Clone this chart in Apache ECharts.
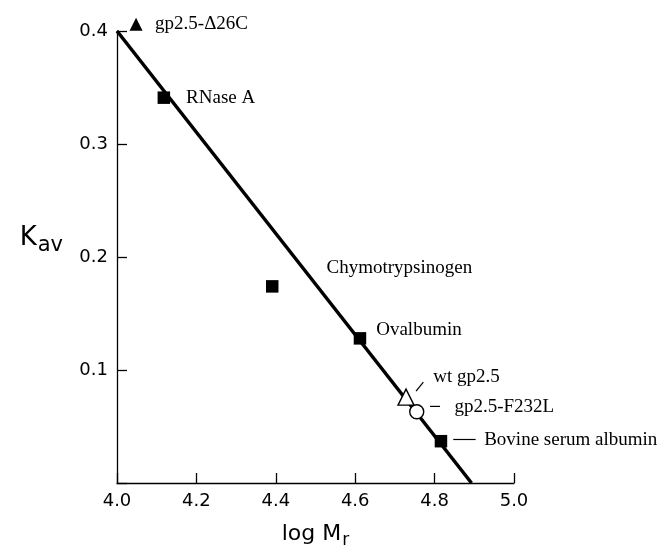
<!DOCTYPE html>
<html>
<head>
<meta charset="utf-8">
<script src="https://cdn.jsdelivr.net/npm/echarts@6/dist/echarts.min.js"></script>
<style>
  html, body { margin: 0; padding: 0; background: #fff; }
  #main { width: 663px; height: 550px; }
</style>
</head>
<body>
<div id="main"></div>
<script>
// proteins and their position on the calibration plot
var proteins = ['gp2.5-\u039426C', 'RNase A', 'Chymotrypsinogen', 'Ovalbumin', 'wt gp2.5', 'gp2.5-F232L', 'Bovine serum albumin'];
var logMr = [4.048, 4.118, 4.391, 4.612, 4.728, 4.755, 4.816];
var kav = [0.406, 0.341, 0.174, 0.128, 0.076, 0.063, 0.037];

// calibration line
var fitX = [4.0, 4.893];
var fitY = [0.4, 0.0];

var xTicks = [4.0, 4.2, 4.4, 4.6, 4.8, 5.0];
var yTicks = [0.1, 0.2, 0.3, 0.4];

var serif = '"Liberation Serif", "Times New Roman", serif';
var sans = '"DejaVu Sans", "Liberation Sans", Arial, sans-serif';

// label placement per point (pixels from the marker)
var labelPos = [
  { d: 12.5, dy: 0 },
  { d: 16, dy: 0 },
  { d: 48, dy: -18 },
  { d: 10, dy: -8 },
  { d: 18.5, dy: -20.5 },
  { d: 30, dy: -5 },
  { d: 37, dy: -1.5 }
];

function point(i, extra) {
  var item = {
    name: proteins[i],
    value: [logMr[i], kav[i]],
    label: {
      show: true,
      position: 'right',
      distance: labelPos[i].d,
      offset: [0, labelPos[i].dy],
      formatter: '{b}',
      color: '#000',
      fontFamily: serif,
      fontSize: 19
    }
  };
  for (var k in extra) item[k] = extra[k];
  return item;
}

function leader(i, w, rot, off) {
  return {
    value: [logMr[i], kav[i]],
    symbol: 'rect',
    symbolSize: [w, 1.2],
    symbolRotate: rot,
    symbolOffset: off
  };
}

var fitData = [];
for (var i = 0; i < fitX.length; i++) fitData.push([fitX[i], fitY[i]]);

var chart = echarts.init(document.getElementById('main'));

chart.setOption({
  animation: false,
  backgroundColor: '#fff',
  grid: { left: 117, right: 149, top: 31, bottom: 67, outerBoundsMode: 'none', containLabel: false },
  xAxis: {
    type: 'value',
    min: 4.0,
    max: 5.0,
    interval: 0.2,
    name: '{a|log M}{r|r}',
    nameLocation: 'middle',
    nameGap: 40,
    nameTextStyle: {
      rich: {
        a: { fontFamily: sans, fontSize: 22, color: '#000', verticalAlign: 'top', lineHeight: 26 },
        r: { fontFamily: sans, fontSize: 17, color: '#000', verticalAlign: 'top', lineHeight: 20, padding: [9, 0, 0, 1] }
      }
    },
    axisLine: { show: true, lineStyle: { color: '#000', width: 1.3 } },
    axisTick: { show: true, inside: true, length: 10, lineStyle: { color: '#000', width: 1.3 } },
    axisLabel: {
      color: '#000', fontFamily: sans, fontSize: 18, margin: 9,
      formatter: function (v) { return v.toFixed(1); }
    },
    splitLine: { show: false }
  },
  yAxis: {
    type: 'value',
    min: 0,
    max: 0.4,
    interval: 0.1,
    name: '{k|K}{s|av}',
    nameLocation: 'middle',
    nameRotate: 0,
    nameGap: 54,
    nameTextStyle: {
      padding: [0, 0, 34, 0],
      rich: {
        k: { fontFamily: sans, fontSize: 26, color: '#000', verticalAlign: 'top', lineHeight: 30 },
        s: { fontFamily: sans, fontSize: 21, color: '#000', verticalAlign: 'top', lineHeight: 24, padding: [10, 0, 0, 1] }
      }
    },
    axisLine: { show: true, lineStyle: { color: '#000', width: 1.3 } },
    axisTick: { show: true, inside: true, length: 10, lineStyle: { color: '#000', width: 1.3 } },
    axisLabel: {
      color: '#000', fontFamily: sans, fontSize: 18, margin: 9,
      formatter: function (v) { return v === 0 ? '' : v.toFixed(1); }
    },
    splitLine: { show: false }
  },
  series: [
    {
      type: 'line',
      data: fitData,
      symbol: 'none',
      lineStyle: { color: '#000', width: 3.5 },
      z: 1
    },
    {
      // standards
      type: 'scatter',
      symbol: 'rect',
      symbolSize: 12.5,
      itemStyle: { color: '#000', opacity: 1 },
      clip: false,
      z: 3,
      data: [point(1), point(2), point(3), point(6)]
    },
    {
      type: 'scatter',
      symbol: 'triangle',
      symbolSize: 13,
      itemStyle: { color: '#000', opacity: 1 },
      clip: false,
      z: 3,
      data: [point(0)]
    },
    {
      type: 'scatter',
      symbol: 'triangle',
      symbolSize: 16,
      itemStyle: { color: '#fff', borderColor: '#000', borderWidth: 1.4, opacity: 1 },
      clip: false,
      z: 3,
      data: [point(4)]
    },
    {
      type: 'scatter',
      symbol: 'circle',
      symbolSize: 14,
      itemStyle: { color: '#fff', borderColor: '#000', borderWidth: 1.4, opacity: 1 },
      clip: false,
      z: 3,
      data: [point(5)]
    },
    {
      // leader lines next to the crowded labels
      type: 'scatter',
      itemStyle: { color: '#000', opacity: 1 },
      silent: true,
      z: 2,
      data: [
        leader(4, 11.6, 51, [13.7, -10.5]),
        leader(5, 10, 0, [18.3, -5.4]),
        leader(6, 22.4, 0, [23.5, -1.7])
      ]
    }
  ]
});
</script>
</body>
</html>
